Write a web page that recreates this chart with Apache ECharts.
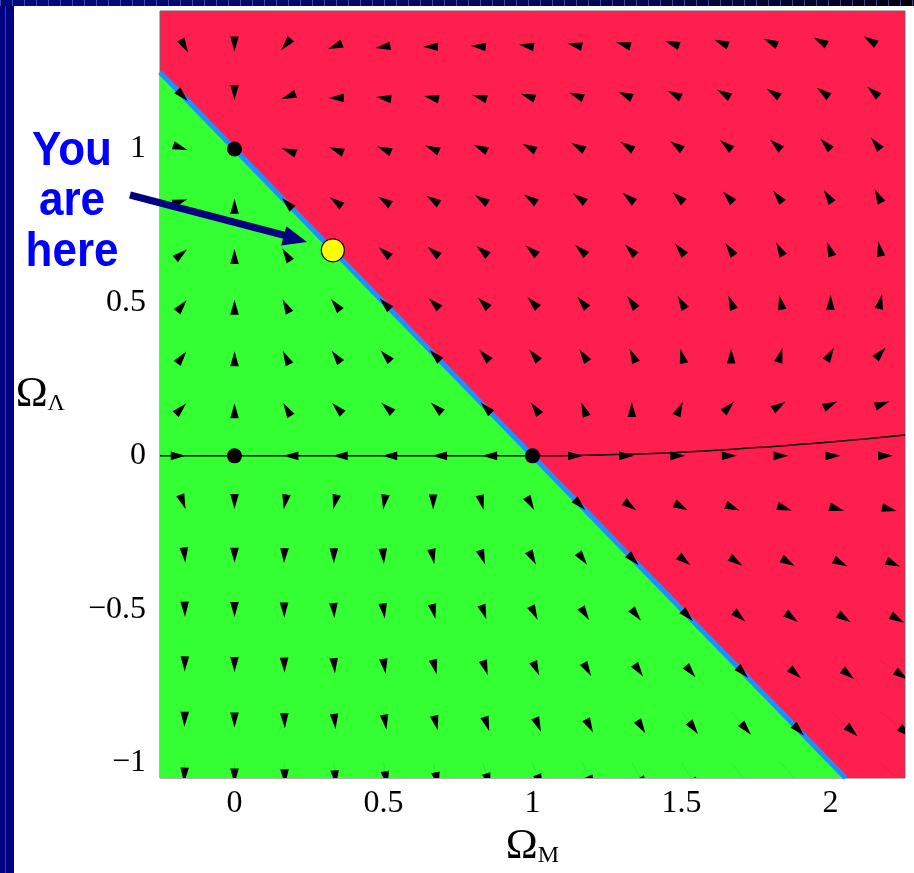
<!DOCTYPE html>
<html><head><meta charset="utf-8">
<script src="https://cdn.jsdelivr.net/npm/echarts@6/dist/echarts.min.js"></script>
<style>
html,body{margin:0;padding:0;background:#fff;}
#leftbar{position:absolute;left:0;top:0;width:14px;height:873px;background:linear-gradient(90deg,#000080 0 5px,#3040b0 5px 6px,#000080 6px);}
#topbar{position:absolute;left:0;top:0;width:914px;height:6px;background:repeating-linear-gradient(90deg,rgba(110,130,230,0.55) 0 1px,transparent 1px 12px),linear-gradient(90deg,#000a7a,#00084a 70%,#000010);}
#chart{position:absolute;left:0;top:0;width:914px;height:873px;}
</style>
</head><body>
<div id="leftbar"></div><div id="topbar"></div>
<div id="chart"></div>
<script>
// Grid of the vector field (Omega_M columns, Omega_Lambda rows, top to bottom)
const omegaM = [-0.1667, 0, 0.1667, 0.3333, 0.5, 0.6667, 0.8333, 1, 1.1667, 1.3333, 1.5, 1.6667, 1.8333, 2, 2.1667];
const omegaL = [1.3333, 1.1667, 1, 0.8333, 0.6667, 0.5, 0.3333, 0.1667, 0, -0.1667, -0.3333, -0.5, -0.6667, -0.8333, -1];
// d(Omega_M)/dN at each grid point (rows follow omegaL)
const dOmegaM = [
  [0.64, 0, -0.58, -1.11, -1.58, -2.00, -2.36, -2.67, -2.92, -3.11, -3.25, -3.33, -3.36, -3.33, -3.25],
  [0.58, 0, -0.53, -1.00, -1.42, -1.78, -2.08, -2.33, -2.53, -2.67, -2.75, -2.78, -2.75, -2.67, -2.53],
  [0.53, 0, -0.47, -0.89, -1.25, -1.56, -1.81, -2.00, -2.14, -2.22, -2.25, -2.22, -2.14, -2.00, -1.81],
  [0.47, 0, -0.42, -0.78, -1.08, -1.33, -1.53, -1.67, -1.75, -1.78, -1.75, -1.67, -1.53, -1.33, -1.08],
  [0.42, 0, -0.36, -0.67, -0.92, -1.11, -1.25, -1.33, -1.36, -1.33, -1.25, -1.11, -0.92, -0.67, -0.36],
  [0.36, 0, -0.31, -0.56, -0.75, -0.89, -0.97, -1.00, -0.97, -0.89, -0.75, -0.56, -0.31, 0, 0.36],
  [0.31, 0, -0.25, -0.44, -0.58, -0.67, -0.69, -0.67, -0.58, -0.44, -0.25, 0, 0.31, 0.67, 1.08],
  [0.25, 0, -0.19, -0.33, -0.42, -0.44, -0.42, -0.33, -0.19, 0, 0.25, 0.56, 0.92, 1.33, 1.81],
  [0.19, 0, -0.14, -0.22, -0.25, -0.22, -0.14, 0, 0.19, 0.44, 0.75, 1.11, 1.53, 2.00, 2.53],
  [0.14, 0, -0.08, -0.11, -0.08, 0, 0.14, 0.33, 0.58, 0.89, 1.25, 1.67, 2.14, 2.67, 3.25],
  [0.08, 0, -0.03, 0, 0.08, 0.22, 0.42, 0.67, 0.97, 1.33, 1.75, 2.22, 2.75, 3.33, 3.97],
  [0.03, 0, 0.03, 0.11, 0.25, 0.44, 0.69, 1.00, 1.36, 1.78, 2.25, 2.78, 3.36, 4.00, 4.69],
  [-0.03, 0, 0.08, 0.22, 0.42, 0.67, 0.97, 1.33, 1.75, 2.22, 2.75, 3.33, 3.97, 4.67, 5.42],
  [-0.08, 0, 0.14, 0.33, 0.58, 0.89, 1.25, 1.67, 2.14, 2.67, 3.25, 3.89, 4.58, 5.33, 6.14],
  [-0.14, 0, 0.19, 0.44, 0.75, 1.11, 1.53, 2.00, 2.53, 3.11, 3.75, 4.44, 5.19, 6.00, 6.86]
];
// d(Omega_Lambda)/dN at each grid point
const dOmegaL = [
  [-1.11, -0.89, -0.67, -0.44, -0.22, 0, 0.22, 0.44, 0.67, 0.89, 1.11, 1.33, 1.56, 1.78, 2.00],
  [-0.58, -0.39, -0.19, 0, 0.19, 0.39, 0.58, 0.78, 0.97, 1.17, 1.36, 1.56, 1.75, 1.94, 2.14],
  [-0.17, 0, 0.17, 0.33, 0.50, 0.67, 0.83, 1.00, 1.17, 1.33, 1.50, 1.67, 1.83, 2.00, 2.17],
  [0.14, 0.28, 0.42, 0.56, 0.69, 0.83, 0.97, 1.11, 1.25, 1.39, 1.53, 1.67, 1.81, 1.94, 2.08],
  [0.33, 0.44, 0.56, 0.67, 0.78, 0.89, 1.00, 1.11, 1.22, 1.33, 1.44, 1.56, 1.67, 1.78, 1.89],
  [0.42, 0.50, 0.58, 0.67, 0.75, 0.83, 0.92, 1.00, 1.08, 1.17, 1.25, 1.33, 1.42, 1.50, 1.58],
  [0.39, 0.44, 0.50, 0.56, 0.61, 0.67, 0.72, 0.78, 0.83, 0.89, 0.94, 1.00, 1.06, 1.11, 1.17],
  [0.25, 0.28, 0.31, 0.33, 0.36, 0.39, 0.42, 0.44, 0.47, 0.50, 0.53, 0.56, 0.58, 0.61, 0.64],
  [0, 0, 0, 0, 0, 0, 0, 0, 0, 0, 0, 0, 0, 0, 0],
  [-0.36, -0.39, -0.42, -0.44, -0.47, -0.50, -0.53, -0.56, -0.58, -0.61, -0.64, -0.67, -0.69, -0.72, -0.75],
  [-0.83, -0.89, -0.94, -1.00, -1.06, -1.11, -1.17, -1.22, -1.28, -1.33, -1.39, -1.44, -1.50, -1.56, -1.61],
  [-1.42, -1.50, -1.58, -1.67, -1.75, -1.83, -1.92, -2.00, -2.08, -2.17, -2.25, -2.33, -2.42, -2.50, -2.58],
  [-2.11, -2.22, -2.33, -2.44, -2.56, -2.67, -2.78, -2.89, -3.00, -3.11, -3.22, -3.33, -3.44, -3.56, -3.67],
  [-2.92, -3.06, -3.19, -3.33, -3.47, -3.61, -3.75, -3.89, -4.03, -4.17, -4.31, -4.44, -4.58, -4.72, -4.86],
  [-3.83, -4.00, -4.17, -4.33, -4.50, -4.67, -4.83, -5.00, -5.17, -5.33, -5.50, -5.67, -5.83, -6.00, -6.17]
];
// Flat-universe line Omega_M + Omega_Lambda = 1 (boundary between regions)
const flatLineM = [-0.25, 2.05];
const flatLineL = [1.25, -1.05];
// Trajectory along Omega_Lambda = 0 and the separatrix leaving (1,0)
const trajM = [-0.25, 0, 0.5, 1, 1.25, 1.5, 1.75, 2, 2.25];
const trajL = [0, 0, 0, 0, 0.004, 0.012, 0.027, 0.045, 0.068];
// Fixed points
const fixedM = [0, 0, 1];
const fixedL = [1, 0, 0];
// "You are here"
const hereM = [0.33];
const hereL = [0.67];
// Tick labels
const xTicks = [0, 0.5, 1, 1.5, 2];
const yTicks = [-1, -0.5, 0, 0.5, 1];

const ARROW_SCALE = 0.017, HEAD_LEN = 15, HEAD_HALF = 4.3;
const arrowData = [];
omegaL.forEach((yv, r) => omegaM.forEach((xv, c) => arrowData.push([xv, yv, dOmegaM[r][c], dOmegaL[r][c]])));

function renderArrow(params, api) {
  const x = api.value(0), y = api.value(1), u = api.value(2), v = api.value(3);
  if (u === 0 && v === 0) return null;
  const p0 = api.coord([x, y]);
  const p1 = api.coord([x + u * ARROW_SCALE, y + v * ARROW_SCALE]);
  const dx = p1[0] - p0[0], dy = p1[1] - p0[1];
  const len = Math.hypot(dx, dy) || 1;
  const ux = dx / len, uy = dy / len;
  const bx = p1[0] - HEAD_LEN * ux, by = p1[1] - HEAD_LEN * uy;
  const px = -uy * HEAD_HALF, py = ux * HEAD_HALF;
  return {
    type: 'group',
    children: [
      { type: 'line', shape: { x1: p0[0], y1: p0[1], x2: p1[0], y2: p1[1] }, style: { stroke: 'rgba(0,0,0,0.15)', lineWidth: 0.6 } },
      { type: 'polygon', shape: { points: [[p1[0], p1[1]], [bx + px, by + py], [bx - px, by - py]] }, style: { fill: '#000' } }
    ]
  };
}

const fmt = v => (v < 0 ? '\u2212' + Math.abs(v) : String(v));
const serif = 'Liberation Serif';
const nameRich = {
  o: { fontFamily: serif, fontSize: 43, color: '#000', lineHeight: 42 },
  s: { fontFamily: serif, fontSize: 24, color: '#000', verticalAlign: 'bottom', lineHeight: 13 }
};

const chart = echarts.init(document.getElementById('chart'), null, { renderer: 'canvas' });
chart.setOption({
  animation: false,
  backgroundColor: 'transparent',
  grid: { left: 160, right: 9, top: 11, bottom: 95, show: true, backgroundColor: '#FF1F4E', borderColor: '#666', borderWidth: 1 },
  xAxis: {
    type: 'value', min: -0.25, max: 2.25,
    splitLine: { show: false }, axisLine: { show: false }, axisTick: { show: false },
    axisLabel: { customValues: xTicks, formatter: fmt, color: '#000', fontFamily: serif, fontSize: 32, margin: 10 },
    name: '{o|\u03A9}{s|M}', nameLocation: 'middle', nameGap: 45,
    nameTextStyle: { verticalAlign: 'top', rich: nameRich }
  },
  yAxis: {
    type: 'value', min: -1.05, max: 1.45,
    splitLine: { show: false }, axisLine: { show: false }, axisTick: { show: false },
    axisLabel: { customValues: yTicks, formatter: fmt, color: '#000', fontFamily: serif, fontSize: 32, margin: 14 },
    name: '{o|\u03A9}{s|\u039B}', nameLocation: 'middle', nameRotate: 0, nameGap: 95,
    nameTextStyle: { align: 'right', verticalAlign: 'middle', rich: nameRich }
  },
  series: [
    {
      type: 'line', z: 2, silent: true, symbol: 'none',
      data: flatLineM.map((m, i) => [m, flatLineL[i]]),
      lineStyle: { color: '#1E8FFF', width: 5 },
      areaStyle: { color: '#33FF33', opacity: 1, origin: 'start' }
    },
    {
      type: 'line', z: 3, silent: true, symbol: 'none', smooth: true,
      data: trajM.map((m, i) => [m, trajL[i]]),
      lineStyle: { color: '#000', width: 1.5 }
    },
    {
      type: 'custom', z: 4, silent: true, clip: true,
      renderItem: renderArrow, data: arrowData
    },
    {
      type: 'scatter', z: 5, silent: true, symbolSize: 15,
      data: fixedM.map((m, i) => [m, fixedL[i]]),
      itemStyle: { color: '#000', opacity: 1 }
    },
    {
      type: 'scatter', z: 6, silent: true, symbolSize: 23,
      data: hereM.map((m, i) => [m, hereL[i]]),
      itemStyle: { color: '#FFFF00', opacity: 1, borderColor: '#000', borderWidth: 1.2 }
    }
  ],
  graphic: [
    { type: 'text', z: 10, scaleY: 1.08, x: 72, y: 152, style: { text: 'You', x: 0, y: 0, align: 'center', verticalAlign: 'middle', fontSize: 44, fontWeight: 'bold', fontFamily: 'Liberation Sans', fill: '#0000FF' } },
    { type: 'text', z: 10, scaleY: 1.08, x: 72, y: 202, style: { text: 'are', x: 0, y: 0, align: 'center', verticalAlign: 'middle', fontSize: 44, fontWeight: 'bold', fontFamily: 'Liberation Sans', fill: '#0000FF' } },
    { type: 'text', z: 10, scaleY: 1.08, x: 72, y: 253, style: { text: 'here', x: 0, y: 0, align: 'center', verticalAlign: 'middle', fontSize: 44, fontWeight: 'bold', fontFamily: 'Liberation Sans', fill: '#0000FF' } },
    { type: 'line', z: 10, shape: { x1: 130, y1: 195, x2: 287, y2: 236 }, style: { stroke: '#000080', lineWidth: 7 } },
    { type: 'polygon', z: 10, shape: { points: [[307, 242], [286.4, 226.2], [281.2, 245.5]] }, style: { fill: '#000080' } }
  ]
});
</script>
</body></html>
